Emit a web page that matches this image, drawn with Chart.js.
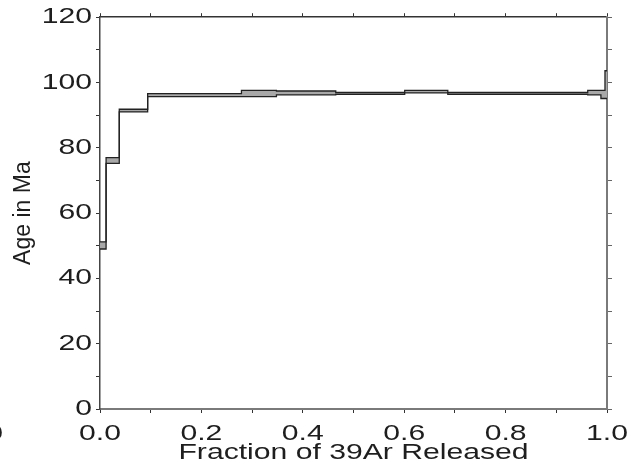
<!DOCTYPE html>
<html>
<head>
<meta charset="utf-8">
<script src="https://cdn.jsdelivr.net/npm/chart.js@4/dist/chart.umd.min.js"></script>
<style>
  html, body { margin: 0; padding: 0; background: #fff; }
</style>
</head>
<body>
<canvas id="chart" width="640" height="476"></canvas>
<script>
// step boundaries as cumulative fraction of 39Ar released
const stepEdges = [0, 0.012, 0.038, 0.094, 0.186, 0.279, 0.348, 0.405, 0.465, 0.601, 0.686, 0.832, 0.962, 0.988, 0.996, 1.0]
// age band of each step (Ma), top and bottom of the error box
const ageUpper = [51.2, 77.0, 91.8, 96.6, 96.6, 97.6, 97.4, 97.4, 97.0, 97.6, 97.0, 97.0, 97.6, 97.6, 103.6]
const ageLower = [49.0, 75.2, 91.0, 95.7, 95.7, 95.7, 96.2, 96.2, 96.4, 96.8, 96.4, 96.4, 96.2, 95.1, 95.1]

const xTickLabels = ["0.0", "0.2", "0.4", "0.6", "0.8", "1.0"]
const yTickLabels = ["0", "20", "40", "60", "80", "100", "120"]

const FONT = "'Liberation Sans', Arial, sans-serif"
const INK = "#1e1e1e"

// the original figure's text is stretched sideways, widen level text the same way
const canvas = document.getElementById("chart")
const ctx = canvas.getContext("2d")
const stretch = 1.37
const plainFillText = ctx.fillText.bind(ctx)
ctx.fillText = function (text, x, y, maxWidth) {
  const m = ctx.getTransform()
  if (m.b !== 0 || m.c !== 0) return plainFillText(text, x, y)
  ctx.save()
  ctx.translate(x, y)
  ctx.scale(stretch, 1)
  plainFillText(text, 0, 0)
  ctx.restore()
}

// each step's value is held from its left edge to the next edge
const stepPoints = ages => stepEdges.map((x, i) => ({ x, y: ages[Math.min(i, ages.length - 1)] }))

const strayZero = {
  id: "strayZero",
  afterDraw(chart) {
    const c = chart.ctx
    c.save()
    c.font = `22px ${FONT}`
    c.fillStyle = INK
    c.textAlign = "right"
    c.textBaseline = "middle"
    c.fillText("0", 3, 434)
    c.restore()
  }
}

new Chart(ctx, {
  type: "line",
  data: {
    datasets: [
      {
        label: "lower",
        data: stepPoints(ageLower),
        stepped: "before",
        borderColor: "#222",
        borderWidth: 1.3,
        pointRadius: 0,
        fill: false,
        xAxisID: "x",
        yAxisID: "y"
      },
      {
        label: "upper",
        data: stepPoints(ageUpper),
        stepped: "before",
        borderColor: "#222",
        borderWidth: 1.3,
        backgroundColor: "#a8a8a8",
        pointRadius: 0,
        fill: "-1",
        xAxisID: "x",
        yAxisID: "y"
      }
    ]
  },
  options: {
    responsive: false,
    animation: false,
    layout: { padding: 0 },
    plugins: { legend: { display: false }, tooltip: { enabled: false } },
    scales: {
      x: {
        type: "linear",
        position: "bottom",
        min: 0,
        max: 1,
        ticks: {
          stepSize: 0.1,
          autoSkip: false,
          maxRotation: 0,
          padding: 8,
          color: INK,
          font: { family: FONT, size: 22 },
          callback: (v, i) => (i % 2 === 0 ? xTickLabels[i / 2] : "")
        },
        grid: { drawOnChartArea: false, tickLength: 4, color: "#333" },
        border: { color: "#7a7a7a", width: 2 },
        title: {
          display: true,
          text: "Fraction of 39Ar Released",
          color: INK,
          font: { family: FONT, size: 22 },
          padding: { top: 0, bottom: 10 }
        },
        afterFit: s => { s.height = 67 }
      },
      x2: {
        axis: "x",
        type: "linear",
        position: "top",
        min: 0,
        max: 1,
        ticks: { stepSize: 0.1, display: false },
        grid: { drawOnChartArea: false, tickLength: 4, color: "#333" },
        border: { color: "#333", width: 1.5 },
        afterFit: s => { s.height = 17 }
      },
      y: {
        type: "linear",
        position: "left",
        min: 0,
        max: 120,
        ticks: {
          stepSize: 10,
          autoSkip: false,
          padding: 4,
          color: INK,
          font: { family: FONT, size: 22 },
          callback: (v, i) => (i % 2 === 0 ? yTickLabels[i / 2] : "")
        },
        grid: { drawOnChartArea: false, tickLength: 4, color: "#333" },
        border: { color: "#444", width: 1.5 },
        title: {
          display: true,
          text: "Age in Ma",
          color: INK,
          font: { family: FONT, size: 23 },
          padding: { top: 10, bottom: 0 }
        },
        afterFit: s => { s.width = 100 }
      },
      y2: {
        axis: "y",
        type: "linear",
        position: "right",
        min: 0,
        max: 120,
        ticks: { stepSize: 10, display: false },
        grid: { drawOnChartArea: false, tickLength: 5, color: "#666" },
        border: { color: "#7a7a7a", width: 2 },
        afterFit: s => { s.width = 33 }
      }
    }
  },
  plugins: [strayZero]
})
</script>
</body>
</html>
